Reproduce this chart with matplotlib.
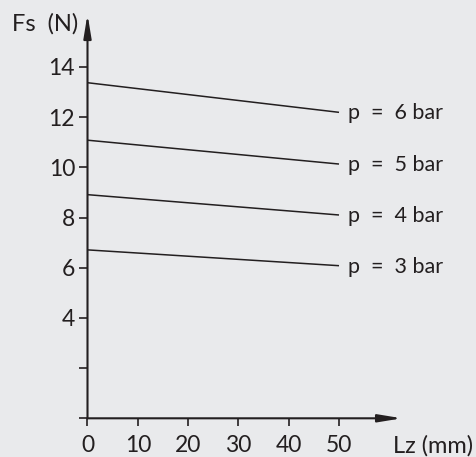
import matplotlib
matplotlib.use("Agg")
import matplotlib.pyplot as plt

# ---- data ----
stroke_mm = [0, 50]
force_6bar = [13.37, 12.19]
force_5bar = [11.08, 10.13]
force_4bar = [8.91, 8.10]
force_3bar = [6.71, 6.08]
series_labels = ["p = 6 bar", "p = 5 bar", "p = 4 bar", "p = 3 bar"]
x_ticks = [0, 10, 20, 30, 40, 50]
x_ticklabels = ["0", "10", "20", "30", "40", "50"]
y_ticks = [0, 2, 4, 6, 8, 10, 12, 14]
y_ticklabels = ["", "", "4", "6", "8", "10", "12", "14"]
x_title = "Lz (mm)"
y_title = "Fs  (N)"

BG = "#e9eaec"
INK = "#231f20"
plt.rcParams['font.family'] = ['Lato', 'DejaVu Sans']

W, H = 477, 457
fig = plt.figure(figsize=(W / 100, H / 100), dpi=100, facecolor=BG)
ax = fig.add_axes([0, 0, 1, 1], facecolor=BG)

# pixel mapping: x=0 -> 87.5px, 5.03 px/mm ; y=0 -> 418.3px, 25.1 px/N
px_per_x, x0px = 5.03, 87.5
px_per_y, y0px = 25.1, 418.3
ax.set_xlim(-x0px / px_per_x, (W - x0px) / px_per_x)
ax.set_ylim(-(H - y0px) / px_per_y, y0px / px_per_y)

for s in ax.spines.values():
    s.set_visible(False)
ax.spines['left'].set_position(('data', 0))
ax.spines['bottom'].set_position(('data', 0))

# axis arrows
ax.annotate('', xy=(62.5, 0), xytext=(0, 0),
            arrowprops=dict(arrowstyle='-|>,head_length=14,head_width=2.3',
                            mutation_scale=1, lw=1.5, color=INK,
                            shrinkA=0, shrinkB=0))
ax.annotate('', xy=(0, 16.1), xytext=(0, 0),
            arrowprops=dict(arrowstyle='-|>,head_length=14,head_width=2.3',
                            mutation_scale=1, lw=1.5, color=INK,
                            shrinkA=0, shrinkB=0))

ax.set_xticks(x_ticks)
ax.set_xticklabels(x_ticklabels)
ax.set_yticks(y_ticks)
ax.set_yticklabels(y_ticklabels)
ax.tick_params(axis='both', direction='out', length=6, width=1.2,
               color=INK, labelcolor=INK, labelsize=16.5)
ax.tick_params(axis='y', pad=3)
ax.tick_params(axis='x', pad=6)

series = [force_6bar, force_5bar, force_4bar, force_3bar]
for vals, lab in zip(series, series_labels):
    ax.plot(stroke_mm, vals, color=INK, lw=1.1, solid_capstyle='butt')
    ax.annotate(lab.replace(" = ", "  =  "), xy=(stroke_mm[-1], vals[-1]),
                xytext=(6.5, -5), textcoords='offset points',
                ha='left', va='baseline', fontsize=15.5, color=INK)

fig.text(12 / W, 1 - 31 / H, y_title, ha='left', va='baseline',
         fontsize=17, color=INK)
fig.text(393 / W, 1 - 453 / H, x_title, ha='left', va='baseline',
         fontsize=17, color=INK)

fig.savefig("out.png", dpi=100, facecolor=BG)
